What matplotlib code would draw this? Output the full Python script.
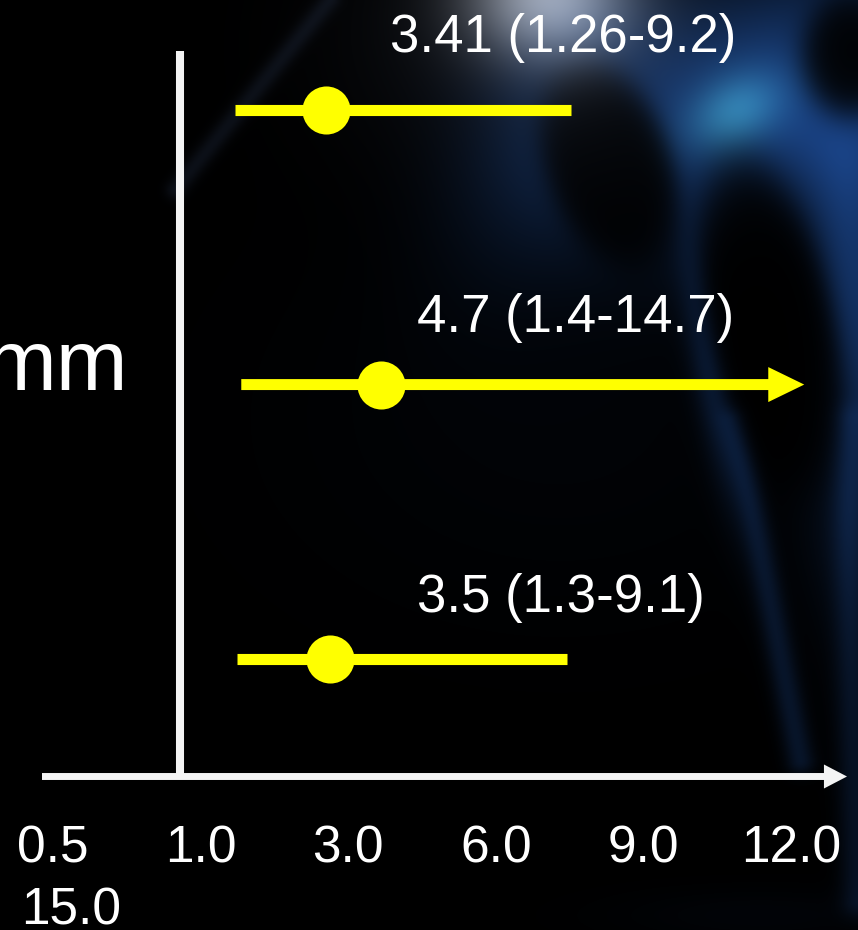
import numpy as np
import matplotlib
matplotlib.use("Agg")
import matplotlib.pyplot as plt

W, H = 858, 930
DPI = 100

# Odds ratios with 95% confidence intervals, top row first
odds_ratio = [3.41, 4.7, 3.5]
ci_low = [1.26, 1.4, 1.3]
ci_high = [9.2, 14.7, 9.1]
open_ended = [False, True, False]      # upper limit runs off the drawn range
row_label = "mm"
x_tick_labels = ["0.5", "1.0", "3.0", "6.0", "9.0", "12.0", "15.0"]

YELLOW = "#FFFF00"
WHITE = "#F4F4F4"
FONT = ["Liberation Sans", "Arial", "DejaVu Sans"]

# ---------------------------------------------------------------- background
yy, xx = np.mgrid[0:H, 0:W].astype(float)


def _rot(cx, cy, ang):
    a = np.deg2rad(ang)
    dx, dy = xx - cx, yy - cy
    return dx * np.cos(a) + dy * np.sin(a), -dx * np.sin(a) + dy * np.cos(a)


def blob(cx, cy, sx, sy, ang=0.0):
    u, v = _rot(cx, cy, ang)
    return np.exp(-0.5 * ((u / sx) ** 2 + (v / sy) ** 2))


def ellipse(cx, cy, a, b, ang=0.0, soft=0.12):
    u, v = _rot(cx, cy, ang)
    r = np.sqrt((u / a) ** 2 + (v / b) ** 2)
    return 1.0 / (1.0 + np.exp((r - 1.0) / soft))


def streak(x0, y0, x1, y1, width):
    px, py = xx - x0, yy - y0
    dx, dy = x1 - x0, y1 - y0
    L2 = dx * dx + dy * dy
    t = np.clip((px * dx + py * dy) / L2, 0, 1)
    d = np.hypot(px - t * dx, py - t * dy)
    return np.exp(-0.5 * (d / width) ** 2)


blue = (0.95 * blob(765, 105, 125, 80, -25)
        + 0.70 * blob(855, 290, 35, 170, 0)
        + 0.30 * blob(560, 120, 60, 110, 25)
        + 0.40 * blob(712, 370, 14, 95, -10)
        + 0.30 * streak(735, 420, 800, 760, 10)
        + 0.25 * streak(845, 420, 858, 900, 12)
        + 0.05 * blob(560, 420, 200, 140)
        + 0.06 * blob(760, 915, 110, 20))
dark = (ellipse(608, 165, 62, 108, -20)
        + ellipse(772, 330, 62, 170, -12)
        + ellipse(850, 55, 48, 62, 0, 0.18))
blue *= 1.0 - 0.95 * np.clip(dark, 0, 1)

rgb = blue[..., None] * np.array([0.10, 0.26, 0.52])
rgb += blob(735, 112, 34, 24, -30)[..., None] * np.array([0.10, 0.26, 0.22])
rgb += blob(548, -5, 58, 46)[..., None] * np.array([0.55, 0.56, 0.58])
rgb += blob(520, 40, 120, 90)[..., None] * np.array([0.05, 0.06, 0.08])
rgb += (0.25 * streak(175, 190, 330, 0, 7))[..., None] * np.array([0.18, 0.24, 0.36])
rgb = np.clip(rgb, 0, 1)

# ---------------------------------------------------------------- figure
fig = plt.figure(figsize=(W / DPI, H / DPI), dpi=DPI)

# pixel frame: background, axis lines and text
frame = fig.add_axes([0, 0, 1, 1])
frame.imshow(rgb, extent=(0, W, H, 0), aspect="auto", interpolation="bilinear")
frame.set_xlim(0, W)
frame.set_ylim(H, 0)
frame.set_axis_off()

# reference line and horizontal axis arrow
frame.plot([180, 180], [51, 777], color=WHITE, lw=5.8, solid_capstyle="butt")
frame.annotate("", xy=(847, 776.5), xytext=(42, 776.5),
               arrowprops=dict(width=5.0, headwidth=17.3, headlength=16.6,
                               color=WHITE, lw=0, shrink=0))

# data axes: linear odds-ratio scale, one row per estimate
ax = fig.add_axes([0, 0, 1, 1])
ax.patch.set_alpha(0)
ax.set_xlim(-4.30, 15.97)
ax.set_ylim(2.987, -0.401)
ax.set_axis_off()

rows = np.arange(len(odds_ratio))
for r, lo, hi, op in zip(rows, ci_low, ci_high, open_ended):
    if op:
        ax.annotate("", xy=(hi, r), xytext=(lo, r),
                    arrowprops=dict(width=7.9, headwidth=25.2, headlength=25.9,
                                    color=YELLOW, lw=0, shrink=0))
    else:
        ax.hlines(r, lo, hi, colors=YELLOW, linewidth=8.0, capstyle="butt")
ax.plot(odds_ratio, rows, "o", ms=34.6, color=YELLOW, mew=0, zorder=4)

# estimate labels
label_pos = [(390, 52), (417, 332), (417, 612)]
for (lx, ly), orv, lo, hi in zip(label_pos, odds_ratio, ci_low, ci_high):
    frame.text(lx, ly, f"{orv} ({lo}-{hi})", color="white", fontsize=38,
               family=FONT, ha="left", va="baseline")

# row label (runs off the left edge)
frame.text(128, 390, row_label, color="white", fontsize=62, family=FONT,
           ha="right", va="baseline")

# x-axis labels: one line of evenly spaced values, last value wraps
for i, lab in enumerate(x_tick_labels[:6]):
    frame.text(53 + i * 147.6, 862, lab, color="white", fontsize=37,
               family=FONT, ha="center", va="baseline")
frame.text(21, 924, x_tick_labels[6], color="white", fontsize=37,
           family=FONT, ha="left", va="baseline")

fig.savefig("out.png", dpi=DPI, facecolor="black")
